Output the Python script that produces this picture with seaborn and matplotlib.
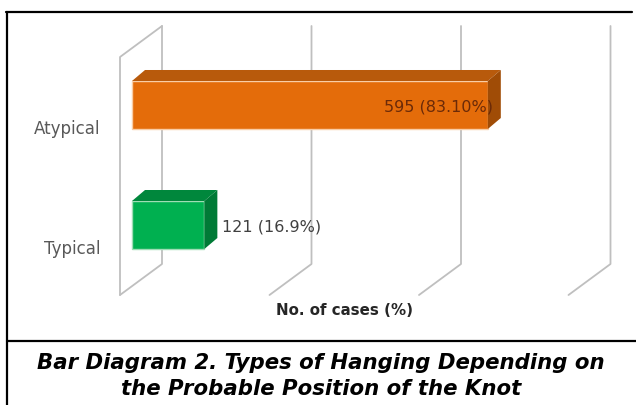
import matplotlib
matplotlib.use("Agg")
import matplotlib.pyplot as plt
from matplotlib.lines import Line2D
from matplotlib.patches import Polygon
from matplotlib.transforms import Affine2D
import seaborn as sns

# data
categories = ["Atypical", "Typical"]
cases = [595, 121]
value_labels = ["595 (83.10%)", "121 (16.9%)"]
grid_values = [0, 250, 500, 750]
caption = "Bar Diagram 2. Types of Hanging Depending on\nthe Probable Position of the Knot"

front_colors = ["#E46C0A", "#00B050"]
top_colors = ["#B85A0C", "#00873C"]
side_colors = ["#A04C06", "#007A36"]
edge_colors = ["#F9CDA6", "#9FDDB5"]
label_colors = ["#6B2A08", "#404040"]

W, H, DPI = 636, 405, 100

sns.set_style("white")
plt.rcParams["font.family"] = ["DejaVu Sans"]

fig = plt.figure(figsize=(W / DPI, H / DPI), dpi=DPI)
fig.patch.set_facecolor("white")

# axes = front plane of the fake 3D box (pixels: x 120..568, y 57..295)
ax = fig.add_axes([120 / W, 1 - 295 / H, 448.5 / W, 238 / H])
sns.barplot(x=cases, y=categories, hue=categories, palette=front_colors,
            saturation=1, orient="h", width=0.4, legend=False, ax=ax, zorder=3)
ax.set_xlim(0, 750)
ax.set_ylim(1.4, -0.5833)
ax.set_xticks([])
for s in ax.spines.values():
    s.set_visible(False)
ax.set_facecolor("none")
ax.tick_params(axis="y", length=0, pad=14, labelsize=12, labelcolor="#595959")
ax.set_ylabel("")
ax.set_xlabel("No. of cases (%)", fontsize=10.8, fontweight="bold",
              color="#262626", labelpad=6)

# wall depth (back plane offset) and bar placement offsets, in pixels
wall_dx, wall_dy = 42, 31
bar_dx, bar_dy = 12, 22
depth_dx, depth_dy = 13, 11
grid_color = "#BFBFBF"

def disp(x, y):
    return ax.transData.transform((x, y))

y_bot, y_top = ax.get_ylim()
for v in grid_values:
    fx, fy = disp(v, y_bot)
    bx, by = disp(v, y_top)
    # vertical on the back plane + floor diagonal
    ax.add_artist(Line2D([fx + wall_dx, fx + wall_dx, fx],
                         [by + wall_dy, fy + wall_dy, fy],
                         transform=None, color=grid_color, lw=1.3, zorder=1,
                         clip_on=False))
# left side wall edges
fx, fy = disp(0, y_bot)
bx, by = disp(0, y_top)
ax.add_artist(Line2D([fx, bx, bx + wall_dx], [fy, by, by + wall_dy],
                     transform=None, color=grid_color, lw=1.3, zorder=1,
                     clip_on=False))

shift = Affine2D().translate(bar_dx, bar_dy)
for i, bar in enumerate(ax.patches):
    bar.set_transform(ax.transData + shift)
    bar.set_clip_on(False)
    bar.set_edgecolor(edge_colors[i])
    bar.set_linewidth(1.0)
    x0, y0 = bar.get_x(), bar.get_y()
    x1, y1 = x0 + bar.get_width(), y0 + bar.get_height()
    # display coords of the front face (y0 is the upper edge, axis inverted)
    lx, ty = disp(x0, y0)
    rx, byy = disp(x1, y1)
    lx, rx = lx + bar_dx, rx + bar_dx
    ty, byy = ty + bar_dy, byy + bar_dy
    top = Polygon([(lx, ty), (rx, ty), (rx + depth_dx, ty + depth_dy),
                   (lx + depth_dx, ty + depth_dy)], closed=True,
                  transform=None, facecolor=top_colors[i], edgecolor="none",
                  zorder=3, clip_on=False)
    side = Polygon([(rx, ty), (rx + depth_dx, ty + depth_dy),
                    (rx + depth_dx, byy + depth_dy), (rx, byy)], closed=True,
                   transform=None, facecolor=side_colors[i], edgecolor="none",
                   zorder=3, clip_on=False)
    ax.add_artist(top)
    ax.add_artist(side)
    cy = (ty + byy) / 2 - 2
    if i == 0:
        ax.add_artist(plt.Text(rx + 5, cy, value_labels[i], transform=None,
                               ha="right", va="center", fontsize=11.5,
                               color=label_colors[i], zorder=5, clip_on=False))
    else:
        ax.add_artist(plt.Text(rx + 18, cy, value_labels[i], transform=None,
                               ha="left", va="center", fontsize=11.5,
                               color=label_colors[i], zorder=5, clip_on=False))

# frame lines and caption
def fp(x, y):
    return x / W, 1 - y / H

for (xa, ya), (xb, yb) in [((6, 12), (632, 12)), ((7, 12), (7, 405)),
                           ((7, 341), (636, 341))]:
    (x1, y1), (x2, y2) = fp(xa, ya), fp(xb, yb)
    fig.add_artist(Line2D([x1, x2], [y1, y2], transform=fig.transFigure,
                          color="black", lw=1.6))

cx, cy = fp(321, 376)
fig.text(cx, cy, caption, ha="center", va="center", fontsize=15.3,
         fontweight="bold", fontstyle="italic", linespacing=1.42, color="black")

fig.savefig("out.png", dpi=DPI, facecolor="white")
